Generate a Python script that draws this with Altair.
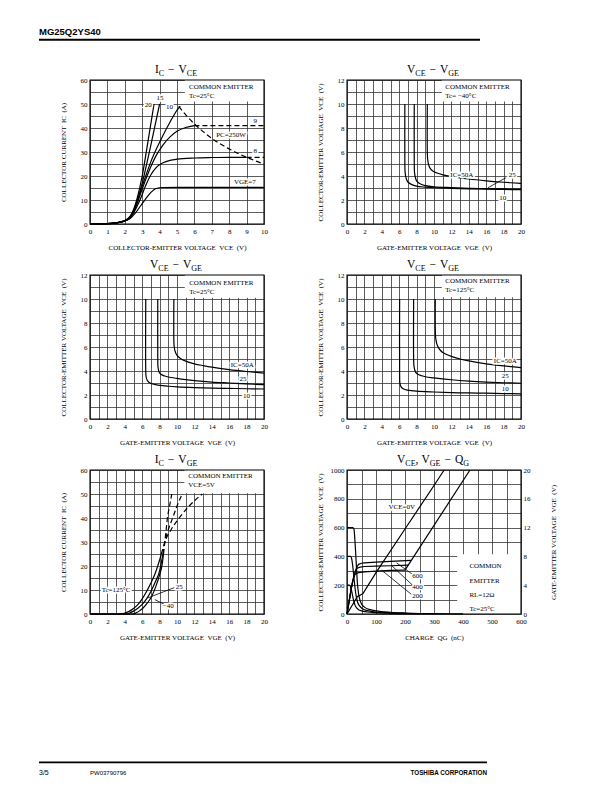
import altair as alt
import pandas as pd

SERIF = "Liberation Serif"
SANS = "Liberation Sans"
W, H = 174, 144
NB = "\u00a0\u00a0"

# ---------------- Panel A : IC - VCE (Tc = 25 C) ----------------
A_X_TICKS = [0, 0.5, 1, 1.5, 2, 2.5, 3, 3.5, 4, 4.5, 5, 5.5, 6, 6.5, 7, 7.5, 8, 8.5, 9, 9.5, 10]
A_Y_TICKS = [0, 5, 10, 15, 20, 25, 30, 35, 40, 45, 50, 55, 60]
A_VGE20_X = [0, 1.0, 1.5, 2.0, 2.3, 2.5, 2.7, 3.0, 3.3, 3.68]
A_VGE20_Y = [0, 0.15, 0.5, 1.4, 3.2, 6.0, 10.5, 20.0, 33.0, 50.0]
A_VGE15_X = [0, 1.0, 1.5, 2.0, 2.3, 2.5, 2.7, 3.0, 3.5, 4.0]
A_VGE15_Y = [0, 0.15, 0.5, 1.4, 3.0, 5.5, 9.5, 17.0, 33.0, 50.0]
A_VGE10_X = [0, 1.0, 1.5, 2.0, 2.3, 2.6, 2.9, 3.2, 3.5, 3.8, 4.2, 4.6, 5.0]
A_VGE10_Y = [0, 0.15, 0.5, 1.3, 2.7, 7.0, 13.5, 20.0, 26.0, 31.0, 37.0, 42.5, 47.5]
A_VGE10D_X = [5.0, 5.3]
A_VGE10D_Y = [47.5, 50.0]
A_VGE9_X = [0, 1.0, 1.5, 2.0, 2.3, 2.6, 2.9, 3.2, 3.5, 3.8, 4.2, 4.6, 5.0, 5.5, 6.0]
A_VGE9_Y = [0, 0.15, 0.5, 1.3, 2.6, 6.5, 12.5, 18.5, 24.0, 28.5, 33.0, 36.3, 38.6, 40.2, 41.0]
A_VGE9D_X = [6.0, 10.0]
A_VGE9D_Y = [41.0, 41.0]
A_VGE8_X = [0, 1.0, 1.5, 2.0, 2.3, 2.6, 2.9, 3.2, 3.5, 3.8, 4.2, 4.6, 5.0, 6.0, 7.0, 8.0, 9.0]
A_VGE8_Y = [0, 0.15, 0.5, 1.3, 2.5, 5.8, 10.5, 16.0, 20.5, 23.5, 25.5, 26.5, 27.0, 27.5, 27.7, 27.8, 27.8]
A_VGE8D_X = [9.0, 10.0]
A_VGE8D_Y = [27.8, 27.8]
A_VGE7_X = [0, 1.0, 1.5, 2.0, 2.3, 2.6, 2.9, 3.2, 3.5, 3.8, 4.2, 5.0, 10.0]
A_VGE7_Y = [0, 0.15, 0.5, 1.3, 2.3, 4.5, 7.5, 10.5, 13.2, 14.8, 15.2, 15.3, 15.3]
A_PC_X = [5.1, 5.5, 6.0, 6.5, 7.0, 7.5, 8.0, 8.5, 9.0, 9.5, 10.0]
A_PC_Y = [49.0, 45.5, 41.7, 38.5, 35.7, 33.3, 31.3, 29.4, 27.8, 26.3, 25.0]
A_BOX = [5.45, 10.0, 51.0, 60.0]
A_NOTE_TXT = ["COMMON EMITTER", "Tc=25°C"]
A_NOTE_X = [5.69, 5.69]
A_NOTE_Y = [57.2, 53.3]
A_LAB_TXT = ["20", "15", "10", "9", "8", "PC=250W", "VGE=7"]
A_LAB_X = [3.35, 4.03, 4.57, 9.5, 9.5, 8.1, 8.9]
A_LAB_Y = [49.6, 52.6, 48.9, 43.1, 30.4, 36.9, 17.5]
A_TITLE = [("I", "m"), ("C", "s"), (4, "g"), ("\u2212", "m"), (4, "g"), ("V", "m"), ("CE", "s")]

# ---------------- Panel B : VCE - VGE (Tc = -40 C) ----------------
V_X_TICKS = list(range(0, 21))
V_Y_TICKS = list(range(0, 13))
B_IC10_X = [6.65, 6.65, 6.68, 6.8, 7.0, 7.4, 8.0, 9.0, 10.0, 12.0, 14.0, 16.0, 18.0, 20.0]
B_IC10_Y = [10.0, 5.0, 4.3, 3.8, 3.5, 3.3, 3.15, 3.07, 3.02, 2.97, 2.93, 2.9, 2.88, 2.86]
B_IC25_X = [7.73, 7.73, 7.76, 7.85, 8.0, 8.4, 9.0, 10.0, 12.0, 14.0, 16.0, 18.0, 20.0]
B_IC25_Y = [10.0, 5.0, 4.3, 3.9, 3.6, 3.35, 3.2, 3.1, 3.03, 2.98, 2.95, 2.92, 2.9]
B_IC50_X = [9.23, 9.23, 9.27, 9.4, 9.6, 10.0, 11.0, 12.0, 14.0, 16.0, 18.0, 20.0]
B_IC50_Y = [10.0, 6.0, 5.4, 4.9, 4.6, 4.35, 4.1, 3.95, 3.75, 3.6, 3.48, 3.38]
B_BOX = [10.9, 20.0, 10.2, 12.0]
B_NOTE_TXT = ["COMMON EMITTER", "Tc= \u221240°C"]
B_NOTE_X = [11.3, 11.3]
B_NOTE_Y = [11.45, 10.7]
B_LAB_TXT = ["IC=50A", "25", "10"]
B_LAB_X = [13.2, 19.0, 17.9]
B_LAB_Y = [4.12, 4.05, 2.17]
B_LEAD = [[16.2, 3.02, 18.5, 3.95]]
V_TITLE = [("V", "m"), ("CE", "s"), (4, "g"), ("\u2212", "m"), (4, "g"), ("V", "m"), ("GE", "s")]

# ---------------- Panel C : VCE - VGE (Tc = 25 C) ----------------
C_IC10_X = [6.41, 6.41, 6.45, 6.6, 6.9, 7.4, 8.0, 9.0, 10.0, 12.0, 14.0, 16.0, 18.0, 20.0]
C_IC10_Y = [10.0, 4.0, 3.5, 3.2, 3.0, 2.88, 2.8, 2.73, 2.68, 2.62, 2.58, 2.55, 2.52, 2.5]
C_IC25_X = [7.79, 7.79, 7.82, 7.95, 8.2, 8.6, 9.0, 10.0, 11.0, 12.0, 14.0, 16.0, 18.0, 20.0]
C_IC25_Y = [10.0, 5.0, 4.3, 3.9, 3.7, 3.58, 3.5, 3.38, 3.28, 3.2, 3.08, 3.0, 2.92, 2.86]
C_IC50_X = [9.64, 9.64, 9.68, 9.8, 10.0, 10.4, 11.0, 12.0, 13.0, 14.0, 16.0, 18.0, 20.0]
C_IC50_Y = [10.0, 6.5, 6.0, 5.6, 5.3, 5.05, 4.82, 4.6, 4.45, 4.32, 4.12, 3.96, 3.82]
C_BOX = [10.9, 20.0, 10.1, 12.0]
C_NOTE_TXT = ["COMMON EMITTER", "Tc=25°C"]
C_NOTE_X = [11.4, 11.4]
C_NOTE_Y = [11.35, 10.6]
C_LAB_TXT = ["IC=50A", "25", "10"]
C_LAB_X = [17.5, 17.6, 18.0]
C_LAB_Y = [4.5, 3.36, 1.88]

# ---------------- Panel D : VCE - VGE (Tc = 125 C) ----------------
D_IC10_X = [6.05, 6.05, 6.08, 6.2, 6.5, 7.0, 8.0, 10.0, 12.0, 14.0, 16.0, 18.0, 20.0]
D_IC10_Y = [10.0, 3.6, 3.0, 2.7, 2.5, 2.4, 2.32, 2.25, 2.2, 2.17, 2.15, 2.12, 2.1]
D_IC25_X = [7.66, 7.66, 7.7, 7.85, 8.1, 8.6, 9.0, 10.0, 12.0, 14.0, 16.0, 18.0, 20.0]
D_IC25_Y = [10.0, 5.0, 4.4, 3.95, 3.75, 3.6, 3.52, 3.42, 3.27, 3.16, 3.08, 3.02, 2.98]
D_IC50_X = [10.15, 10.15, 10.2, 10.4, 10.7, 11.0, 12.0, 13.0, 14.0, 16.0, 18.0, 20.0]
D_IC50_Y = [10.0, 7.5, 6.7, 6.1, 5.75, 5.55, 5.22, 5.0, 4.84, 4.6, 4.42, 4.28]
D_BOX = [10.9, 20.0, 10.15, 12.0]
D_NOTE_TXT = ["COMMON EMITTER", "Tc=125°C"]
D_NOTE_X = [11.3, 11.3]
D_NOTE_Y = [11.5, 10.73]
D_LAB_TXT = ["IC=50A", "25", "10"]
D_LAB_X = [18.2, 18.2, 18.2]
D_LAB_Y = [4.85, 3.55, 2.52]

# ---------------- Panel E : IC - VGE (VCE = 5 V) ----------------
E_Y_TICKS = [0, 5, 10, 15, 20, 25, 30, 35, 40, 45, 50, 55, 60]
E_T125_X = [0, 3.5, 4.0, 4.5, 5.0, 5.5, 6.0, 6.5, 7.0, 7.5, 8.0, 8.2]
E_T125_Y = [0, 0, 0.4, 1.1, 2.3, 3.9, 6.3, 9.4, 12.9, 17.0, 22.5, 25.0]
E_T25_X = [0, 4.2, 4.6, 5.0, 5.5, 6.0, 6.5, 7.0, 7.5, 8.0, 8.38]
E_T25_Y = [0, 0, 0.5, 1.2, 2.4, 4.0, 6.3, 9.4, 13.3, 18.0, 25.0]
E_TM40_X = [0, 4.9, 5.3, 5.7, 6.1, 6.6, 7.1, 7.55, 8.0, 8.3, 8.45]
E_TM40_Y = [0, 0, 0.5, 1.3, 2.5, 4.6, 7.4, 11.3, 16.3, 20.8, 25.0]
E_TM40D_X = [8.45, 8.6, 8.75, 8.9, 9.15, 9.4]
E_TM40D_Y = [25, 30, 35, 40, 45, 50]
E_T25D_X = [8.38, 8.6, 8.9, 9.5, 10.0, 10.6]
E_T25D_Y = [25, 30, 34, 40, 45, 50]
E_T125D_X = [8.2, 8.6, 9.3, 10.25, 11.4, 12.9]
E_T125D_Y = [25, 30, 35, 40, 45, 50]
E_BOX = [10.85, 20.0, 50.3, 60.0]
E_NOTE_TXT = ["COMMON EMITTER", "VCE=5V"]
E_NOTE_X = [11.3, 11.3]
E_NOTE_Y = [57.3, 53.8]
E_LAB_TXT = ["Tc=125°C", "25", "\u221240"]
E_LAB_X = [3.0, 10.25, 9.0]
E_LAB_Y = [9.8, 11.2, 3.3]
E_LEAD = [[6.65, 6.7, 9.7, 11.0], [7.45, 6.0, 8.55, 4.0]]
E_TITLE = [("I", "m"), ("C", "s"), (4, "g"), ("\u2212", "m"), (4, "g"), ("V", "m"), ("GE", "s")]

# ---------------- Panel F : VCE, VGE - QG ----------------
F_X_TICKS = [0, 50, 100, 150, 200, 250, 300, 350, 400, 450, 500, 550, 600]
F_Y_TICKS = [0, 100, 200, 300, 400, 500, 600, 700, 800, 900, 1000]
F_Y2_TICKS = [0, 4, 8, 12, 16, 20]
F_VCE600_X = [0, 20, 24, 27, 30, 33, 36, 40, 45, 50, 60, 80, 100, 150, 200, 300, 400]
F_VCE600_Y = [600, 600, 590, 520, 420, 310, 210, 140, 95, 70, 48, 30, 22, 12, 7, 3, 1]
F_VCE400_X = [0, 12, 16, 20, 24, 28, 32, 36, 42, 50, 60, 80, 100, 150, 200, 300]
F_VCE400_Y = [400, 400, 385, 330, 250, 175, 120, 85, 60, 42, 30, 20, 14, 8, 5, 2]
F_VCE200_X = [0, 8, 12, 16, 20, 24, 28, 34, 40, 50, 70, 100, 150, 250]
F_VCE200_Y = [200, 200, 190, 160, 120, 85, 60, 40, 30, 22, 14, 9, 5, 2]
F_VGE0_X = [0, 36, 45, 55, 100, 200, 300, 335]
F_VGE0_Y = [0, 2.45, 2.6, 2.85, 5.75, 11.8, 17.85, 20.0]
F_VGE200_X = [0, 5, 10, 15, 20, 25, 30, 40, 60, 100, 150, 200]
F_VGE200_Y = [0, 1.2, 2.4, 3.6, 4.6, 5.3, 5.6, 5.75, 5.85, 5.95, 6.05, 6.1]
F_VGE400_X = [0, 5, 10, 15, 20, 25, 30, 35, 45, 60, 100, 150, 211]
F_VGE400_Y = [0, 1.2, 2.4, 3.6, 4.6, 5.4, 6.0, 6.35, 6.5, 6.6, 6.65, 6.7, 6.78]
F_VGE600_X = [0, 5, 10, 15, 20, 25, 30, 35, 40, 50, 60, 100, 150, 222]
F_VGE600_Y = [0, 1.2, 2.4, 3.6, 4.6, 5.4, 6.1, 6.6, 6.9, 7.05, 7.1, 7.2, 7.3, 7.45]
F_VGEDIAG_X = [200, 424]
F_VGEDIAG_Y = [6.1, 20.0]
F_BOX = [380, 600, 0, 415]
F_NOTE_TXT = ["COMMON", "EMITTER", "RL=12\u03a9", "Tc=25°C"]
F_NOTE_X = [422, 422, 422, 422]
F_NOTE_Y = [330, 232, 133, 34]
F_LAB_TXT = ["VCE=0V", "600", "400", "200"]
F_LAB_X = [189, 243, 243, 243]
F_LAB_Y = [745, 262, 190, 125]
F_LEAD = [[226, 275, 171, 355], [226, 200, 153, 338], [226, 130, 119, 305]]
F_TITLE = [("V", "m"), ("CE", "s"), (",", "m"), (3, "g"), ("V", "m"), ("GE", "s"), (4, "g"),
           ("\u2212", "m"), (4, "g"), ("Q", "m"), ("G", "s")]

# ---------------- page texts ----------------
HEADER_TEXT = "MG25Q2YS40"
FOOTER_PAGE = "3/5"
FOOTER_CODE = "PW03790796"
FOOTER_CORP = "TOSHIBA CORPORATION"

ONE = pd.DataFrame({"k": [0]})
GLYPH_W = {"I": 0.333, "C": 0.667, "E": 0.611, "G": 0.722, "V": 0.722, "Q": 0.722, ",": 0.25,
           "\u2212": 0.564}


def series_df(d):
    rows = []
    for name, (xs, ys) in d.items():
        for i, (x, y) in enumerate(zip(xs, ys)):
            rows.append({"s": name, "i": i, "x": x, "y": y})
    return pd.DataFrame(rows)


def text_df(t, xs, ys):
    return pd.DataFrame({"t": t, "x": xs, "y": ys})


def title_layers(pieces, main=11.5, sub=8.0):
    items, total = [], 0.0
    for t, k in pieces:
        if k == "g":
            total += t
            continue
        fs = main if k == "m" else sub
        items.append((t, total, fs, k))
        total += sum(GLYPH_W[c] for c in t) * fs
    x0 = W / 2 - 1 - total / 2
    return [alt.Chart(ONE).mark_text(align="left", baseline="alphabetic", font=SERIF, fontSize=fs,
                                     color="black", text=t)
            .encode(x=alt.value(x0 + off), y=alt.value(-6.7 if k == "m" else -4.4))
            for t, off, fs, k in items]


def x_axis(values, step, title):
    return alt.Axis(values=values, labelExpr=f"datum.value % {step} === 0 ? datum.label : ''",
                    format="d", title=title, titleX=W / 2, titleY=23, titleBaseline="middle",
                    titleAlign="center", labelPadding=3, grid=True)


def y_axis(values, step, title):
    return alt.Axis(values=values, labelExpr=f"datum.value % {step} === 0 ? datum.label : ''",
                    format="d", title=title, titleAngle=270, titleX=-27, titleY=H / 2,
                    titleBaseline="middle", titleAlign="center", labelPadding=3, grid=True)


def base_layers(xs, ys, ax, ay, solid, dashed, box, note, labels, leads, interp):
    X = lambda: alt.X("x:Q", scale=xs, axis=ax)
    Y = lambda: alt.Y("y:Q", scale=ys, axis=ay)
    layers = []
    bdf = pd.DataFrame([{"x": box[0], "x2": box[1], "y": box[2], "y2": box[3]}])
    layers.append(alt.Chart(bdf).mark_rect(color="white").encode(x=X(), x2="x2:Q", y=Y(), y2="y2:Q"))
    if solid:
        layers.append(alt.Chart(series_df(solid)).mark_line(color="black", strokeWidth=1.2, interpolate=interp)
                      .encode(x=X(), y=Y(), detail="s:N", order="i:Q"))
    if dashed:
        layers.append(alt.Chart(series_df(dashed)).mark_line(color="black", strokeWidth=1.2, strokeDash=[5, 3],
                                                            interpolate=interp)
                      .encode(x=X(), y=Y(), detail="s:N", order="i:Q"))
    if leads:
        ldf = pd.DataFrame([{"x": a, "y": b, "x2": c, "y2": d} for a, b, c, d in leads])
        layers.append(alt.Chart(ldf).mark_rule(color="black", strokeWidth=0.8)
                      .encode(x=X(), y=Y(), x2="x2:Q", y2="y2:Q"))
    for df, align in ((note, "left"), (labels, "center")):
        layers.append(alt.Chart(df).mark_text(align=align, baseline="middle", font=SERIF, fontSize=7,
                                              color="white", stroke="white", strokeWidth=3)
                      .encode(x=X(), y=Y(), text="t:N"))
        layers.append(alt.Chart(df).mark_text(align=align, baseline="middle", font=SERIF, fontSize=7,
                                              color="black")
                      .encode(x=X(), y=Y(), text="t:N"))
    return layers


def frame():
    return alt.Chart(ONE).mark_rect(fillOpacity=0, stroke="black", strokeWidth=1.1).encode(
        x=alt.value(0), x2=alt.value(W), y=alt.value(0), y2=alt.value(H))


def vce_vge_panel(curves, box, note, labels, leads):
    xs = alt.Scale(domain=[0, 20], nice=False, zero=False)
    ys = alt.Scale(domain=[0, 12], nice=False, zero=False)
    ax = x_axis(V_X_TICKS, 2, f"GATE-EMITTER VOLTAGE{NB}VGE{NB}(V)")
    ay = y_axis(V_Y_TICKS, 2, f"COLLECTOR-EMITTER VOLTAGE{NB}VCE{NB}(V)")
    layers = base_layers(xs, ys, ax, ay, curves, None, box, note, labels, leads, "catmull-rom")
    return alt.layer(*layers, frame(), *title_layers(V_TITLE)).properties(width=W, height=H)


# ---- Panel A ----
xa = alt.Scale(domain=[0, 10], nice=False, zero=False)
ya = alt.Scale(domain=[0, 60], nice=False, zero=False)
A_layers = base_layers(
    xa, ya,
    x_axis(A_X_TICKS, 1, f"COLLECTOR-EMITTER VOLTAGE{NB}VCE{NB}(V)"),
    y_axis(A_Y_TICKS, 10, f"COLLECTOR CURRENT{NB}IC{NB}(A)"),
    {"20": (A_VGE20_X, A_VGE20_Y), "15": (A_VGE15_X, A_VGE15_Y), "10": (A_VGE10_X, A_VGE10_Y),
     "9": (A_VGE9_X, A_VGE9_Y), "8": (A_VGE8_X, A_VGE8_Y), "7": (A_VGE7_X, A_VGE7_Y)},
    {"10d": (A_VGE10D_X, A_VGE10D_Y), "9d": (A_VGE9D_X, A_VGE9D_Y), "8d": (A_VGE8D_X, A_VGE8D_Y),
     "pc": (A_PC_X, A_PC_Y)},
    A_BOX, text_df(A_NOTE_TXT, A_NOTE_X, A_NOTE_Y), text_df(A_LAB_TXT, A_LAB_X, A_LAB_Y), None, "monotone")

page_marks = [
    alt.Chart(ONE).mark_text(align="left", baseline="alphabetic", font=SANS, fontWeight="bold", fontSize=9.5,
                             color="black", text=HEADER_TEXT).encode(x=alt.value(-51), y=alt.value(-45.5)),
    alt.Chart(ONE).mark_rule(color="black", strokeWidth=2).encode(x=alt.value(-51), x2=alt.value(390),
                                                                  y=alt.value(-40.3)),
    alt.Chart(ONE).mark_rule(color="black", strokeWidth=1.8).encode(x=alt.value(-51), x2=alt.value(397),
                                                                    y=alt.value(682.3)),
    alt.Chart(ONE).mark_text(align="left", baseline="alphabetic", font=SANS, fontSize=7, color="black",
                             text=FOOTER_PAGE).encode(x=alt.value(-51), y=alt.value(694.5)),
    alt.Chart(ONE).mark_text(align="left", baseline="alphabetic", font=SANS, fontSize=6, color="black",
                             text=FOOTER_CODE).encode(x=alt.value(0), y=alt.value(694.5)),
    alt.Chart(ONE).mark_text(align="right", baseline="alphabetic", font=SANS, fontWeight="bold", fontSize=6.3,
                             color="black", text=FOOTER_CORP).encode(x=alt.value(397), y=alt.value(694.5)),
]
panel_a = alt.layer(*A_layers, frame(), *title_layers(A_TITLE), *page_marks).properties(width=W, height=H)

panel_b = vce_vge_panel({"10": (B_IC10_X, B_IC10_Y), "25": (B_IC25_X, B_IC25_Y), "50": (B_IC50_X, B_IC50_Y)},
                        B_BOX, text_df(B_NOTE_TXT, B_NOTE_X, B_NOTE_Y), text_df(B_LAB_TXT, B_LAB_X, B_LAB_Y),
                        B_LEAD)
panel_c = vce_vge_panel({"10": (C_IC10_X, C_IC10_Y), "25": (C_IC25_X, C_IC25_Y), "50": (C_IC50_X, C_IC50_Y)},
                        C_BOX, text_df(C_NOTE_TXT, C_NOTE_X, C_NOTE_Y), text_df(C_LAB_TXT, C_LAB_X, C_LAB_Y),
                        None)
panel_d = vce_vge_panel({"10": (D_IC10_X, D_IC10_Y), "25": (D_IC25_X, D_IC25_Y), "50": (D_IC50_X, D_IC50_Y)},
                        D_BOX, text_df(D_NOTE_TXT, D_NOTE_X, D_NOTE_Y), text_df(D_LAB_TXT, D_LAB_X, D_LAB_Y),
                        None)

# ---- Panel E ----
xe = alt.Scale(domain=[0, 20], nice=False, zero=False)
ye = alt.Scale(domain=[0, 60], nice=False, zero=False)
E_layers = base_layers(
    xe, ye,
    x_axis(V_X_TICKS, 2, f"GATE-EMITTER VOLTAGE{NB}VGE{NB}(V)"),
    y_axis(E_Y_TICKS, 10, f"COLLECTOR CURRENT{NB}IC{NB}(A)"),
    {"125": (E_T125_X, E_T125_Y), "25": (E_T25_X, E_T25_Y), "-40": (E_TM40_X, E_TM40_Y)},
    {"125d": (E_T125D_X, E_T125D_Y), "25d": (E_T25D_X, E_T25D_Y), "-40d": (E_TM40D_X, E_TM40D_Y)},
    E_BOX, text_df(E_NOTE_TXT, E_NOTE_X, E_NOTE_Y), text_df(E_LAB_TXT, E_LAB_X, E_LAB_Y), E_LEAD, "monotone")
panel_e = alt.layer(*E_layers, frame(), *title_layers(E_TITLE)).properties(width=W, height=H)

# ---- Panel F ----
xf = alt.Scale(domain=[0, 600], nice=False, zero=False)
yf = alt.Scale(domain=[0, 1000], nice=False, zero=False)
yf2 = alt.Scale(domain=[0, 20], nice=False, zero=False)
F_left = base_layers(
    xf, yf,
    x_axis(F_X_TICKS, 100, f"CHARGE{NB}QG{NB}(nC)"),
    y_axis(F_Y_TICKS, 200, f"COLLECTOR-EMITTER VOLTAGE{NB}VCE{NB}(V)"),
    {"600": (F_VCE600_X, F_VCE600_Y), "400": (F_VCE400_X, F_VCE400_Y), "200": (F_VCE200_X, F_VCE200_Y)},
    None, F_BOX, text_df(F_NOTE_TXT, F_NOTE_X, F_NOTE_Y), text_df(F_LAB_TXT, F_LAB_X, F_LAB_Y), F_LEAD,
    "monotone")
ax_f2 = alt.Axis(values=F_Y2_TICKS, format="d", orient="right", grid=False,
                 title=f"GATE-EMITTER VOLTAGE{NB}VGE{NB}(V)", titleAngle=270, titleX=32, titleY=H / 2,
                 titleBaseline="middle", titleAlign="center", labelPadding=2)
vge_df = series_df({"0": (F_VGE0_X, F_VGE0_Y), "200": (F_VGE200_X, F_VGE200_Y),
                    "400": (F_VGE400_X, F_VGE400_Y), "600": (F_VGE600_X, F_VGE600_Y),
                    "diag": (F_VGEDIAG_X, F_VGEDIAG_Y)})
F_vge = alt.Chart(vge_df).mark_line(color="black", strokeWidth=1.2, interpolate="linear").encode(
    x=alt.X("x:Q", scale=xf, axis=x_axis(F_X_TICKS, 100, f"CHARGE{NB}QG{NB}(nC)")),
    y=alt.Y("y:Q", scale=yf2, axis=ax_f2), detail="s:N", order="i:Q")
panel_f = alt.layer(alt.layer(*F_left), F_vge, frame(), *title_layers(F_TITLE)).resolve_scale(
    y="independent").properties(width=W, height=H)

chart = alt.concat(panel_a, panel_b, panel_c, panel_d, panel_e, panel_f, columns=2,
                   spacing={"row": 51, "column": 83}, bounds="flush").properties(
    padding={"left": 29, "top": 18, "right": 4, "bottom": 4}
).configure_view(stroke="transparent").configure_axis(
    labelFont=SERIF, labelFontSize=7, labelColor="black", titleFont=SERIF, titleFontSize=7,
    titleFontWeight="normal", titleColor="black", gridColor="#333333", gridWidth=0.8, domain=False,
    ticks=False, labelFlush=False, labelOverlap=False
)

chart.save("out.html", embed_options={"renderer": "svg", "actions": False})
